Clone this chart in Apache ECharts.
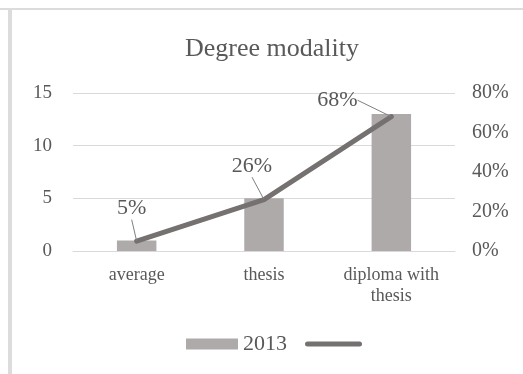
<!DOCTYPE html>
<html>
<head>
<meta charset="utf-8">
<script src="https://cdn.jsdelivr.net/npm/echarts@6/dist/echarts.min.js"></script>
<style>
  html, body { margin: 0; padding: 0; background: #fff; }
  #chart { width: 523px; height: 374px; }
</style>
</head>
<body>
<div id="chart"></div>
<script>
// Degree modality, 2013: counts (left axis) and share of total (right axis)
const categories = ['average', 'thesis', 'diploma with\nthesis'];
const counts2013 = [1, 5, 13];
const sharePercent = [5, 26, 68];
const countTicks = { min: 0, max: 15, interval: 5 };
const percentTicks = { min: 0, max: 80, interval: 20 };

const serif = 'Liberation Serif';
const textColor = '#595959';

// label offsets for the percentage callouts
const labelShift = [
  { dx: -5, dy: -16 },
  { dx: -12, dy: -17 },
  { dx: -54, dy: 0 }
];

const chart = echarts.init(document.getElementById('chart'));
chart.setOption({
  backgroundColor: '#ffffff',
  animation: false,
  title: {
    text: 'Degree modality',
    left: 180,
    top: 31,
    textStyle: { fontFamily: serif, fontSize: 26, fontWeight: 'normal', color: textColor }
  },
  legend: {
    bottom: 14,
    left: 181,
    itemWidth: 52,
    itemHeight: 11,
    itemGap: 18,
    textStyle: { fontFamily: serif, fontSize: 22, color: textColor },
    data: [
      { name: '2013', icon: 'rect' },
      { name: ' ', itemStyle: { opacity: 0 }, lineStyle: { width: 5, cap: 'round', color: '#767171' } }
    ]
  },
  grid: { left: 73, right: 68, top: 93, bottom: 123 },
  xAxis: {
    type: 'category',
    data: categories,
    axisTick: { show: false },
    axisLine: { lineStyle: { color: '#d9d9d9', width: 1 } },
    axisLabel: { fontFamily: serif, fontSize: 18, color: textColor, margin: 14, lineHeight: 21 }
  },
  yAxis: [
    {
      type: 'value',
      min: countTicks.min, max: countTicks.max, interval: countTicks.interval,
      axisLine: { show: false },
      axisTick: { show: false },
      splitLine: { lineStyle: { color: '#d9d9d9', width: 1 } },
      axisLabel: { fontFamily: serif, fontSize: 19, color: textColor, margin: 21 }
    },
    {
      type: 'value',
      min: percentTicks.min, max: percentTicks.max, interval: percentTicks.interval,
      axisLine: { show: false },
      axisTick: { show: false },
      splitLine: { show: false },
      axisLabel: { fontFamily: serif, fontSize: 20, color: textColor, margin: 17, formatter: '{value}%' }
    }
  ],
  series: [
    {
      name: '2013',
      type: 'bar',
      yAxisIndex: 0,
      barWidth: '31%',
      itemStyle: { color: '#aeaaaa' },
      data: counts2013
    },
    {
      name: ' ',
      type: 'line',
      yAxisIndex: 1,
      symbol: 'circle',
      symbolSize: 1,
      showSymbol: true,
      lineStyle: { color: '#767171', width: 5, cap: 'round', join: 'round' },
      itemStyle: { color: '#767171' },
      data: sharePercent,
      label: {
        show: true,
        position: 'top',
        formatter: '{c}%',
        fontFamily: serif,
        fontSize: 22,
        color: textColor
      },
      labelLine: {
        show: true,
        lineStyle: { color: '#7f7f7f', width: 1 }
      },
      labelLayout: function (p) {
        return labelShift[p.dataIndex];
      },
      z: 3
    }
  ],
  graphic: [
    // frame edges around the chart area
    { type: 'rect', shape: { x: 0, y: 8, width: 523, height: 2 }, style: { fill: '#dcdcdc' }, silent: true },
    { type: 'rect', shape: { x: 8, y: 10, width: 4, height: 364 }, style: { fill: '#dcdcdc' }, silent: true }
  ]
});
</script>
</body>
</html>
